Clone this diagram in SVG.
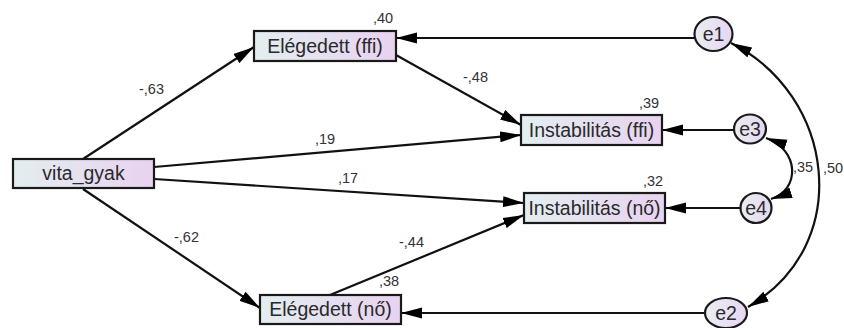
<svg xmlns="http://www.w3.org/2000/svg" width="844" height="328" viewBox="0 0 844 328">
<defs>
<linearGradient id="g" x1="0" x2="1" y1="0" y2="0"><stop offset="0" stop-color="#e3eef0"/><stop offset="1" stop-color="#e8d2f0"/></linearGradient>
<linearGradient id="ge" x1="0" x2="1" y1="0" y2="0"><stop offset="0" stop-color="#eaeef2"/><stop offset="1" stop-color="#e6d6f2"/></linearGradient>
<marker id="ah" markerUnits="userSpaceOnUse" markerWidth="22" markerHeight="12" refX="21" refY="6" orient="auto-start-reverse" viewBox="0 0 22 12"><path d="M0,0.5 L21,6 L0,11.5 Z" fill="#000"/></marker>
</defs>
<style>
.box{fill:url(#g);stroke:#1a1a1a;stroke-width:2.2}
.ell{fill:url(#ge);stroke:#1a1a1a;stroke-width:2.2}
.lbl{font-family:"Liberation Sans",Arial,sans-serif;font-size:19.5px;fill:#2a2a2a;text-anchor:middle}
.num{font-family:"Liberation Sans",Arial,sans-serif;font-size:14.5px;fill:#333}
.c{stroke:#111;stroke-width:2.2;fill:none;marker-end:url(#ah)}
.cv{marker-start:url(#ah)}
</style>
<rect width="844" height="328" fill="#fff"/>
<g id="connectors">
<path class="c" d="M83,159 L254,47"/>
<path class="c" d="M154,167 L521,135"/>
<path class="c" d="M154,179 L524,203"/>
<path class="c" d="M83,189 L260,308"/>
<path class="c" d="M396,55 L521,125"/>
<path class="c" d="M330,295 L524,215"/>
<path class="c" d="M694.5,38 L396,38"/>
<path class="c" d="M734,130 L662,130"/>
<path class="c" d="M740.5,208 L665,208"/>
<path class="c" d="M705,313 L401,313"/>
<path class="c cv" d="M731,43 C835,95 855,245 748,307"/>
<path class="c cv" d="M766,138 C800,150 800,190 771,199"/>
</g>
<g id="labels">
<text class="num" x="373" y="23">,40</text>
<text class="num" x="139" y="94">-,63</text>
<text class="num" x="315" y="144">,19</text>
<text class="num" x="463" y="82">-,48</text>
<text class="num" x="639" y="108">,39</text>
<text class="num" x="793" y="172">,35</text>
<text class="num" x="823" y="173">,50</text>
<text class="num" x="338" y="183">,17</text>
<text class="num" x="643" y="186">,32</text>
<text class="num" x="174" y="242">-,62</text>
<text class="num" x="399" y="247">-,44</text>
<text class="num" x="379" y="286">,38</text>
</g>
<g id="elegedett_ffi"><rect class="box" x="254" y="31" width="142" height="30"/><text class="lbl" x="325" y="53">Elégedett (ffi)</text></g>
<g id="vita_gyak"><rect class="box" x="13" y="159" width="141" height="29"/><text class="lbl" x="83.5" y="180">vita_gyak</text></g>
<g id="instabilitas_ffi"><rect class="box" x="521" y="115" width="141" height="30"/><text class="lbl" x="591.5" y="137">Instabilitás (ffi)</text></g>
<g id="instabilitas_no"><rect class="box" x="524" y="193" width="141" height="30"/><text class="lbl" x="594.5" y="215">Instabilitás (nő)</text></g>
<g id="elegedett_no"><rect class="box" x="260" y="295" width="141" height="29"/><text class="lbl" x="330.5" y="316">Elégedett (nő)</text></g>
<g id="e1"><ellipse class="ell" cx="713.5" cy="34" rx="19" ry="17"/><text class="lbl" x="713.5" y="41">e1</text></g>
<g id="e3"><ellipse class="ell" cx="750" cy="129" rx="16" ry="14.5"/><text class="lbl" x="750" y="136">e3</text></g>
<g id="e4"><ellipse class="ell" cx="756" cy="208" rx="15.5" ry="15"/><text class="lbl" x="756" y="215">e4</text></g>
<g id="e2"><ellipse class="ell" cx="726" cy="313" rx="21" ry="15"/><text class="lbl" x="726" y="320">e2</text></g>
</svg>
